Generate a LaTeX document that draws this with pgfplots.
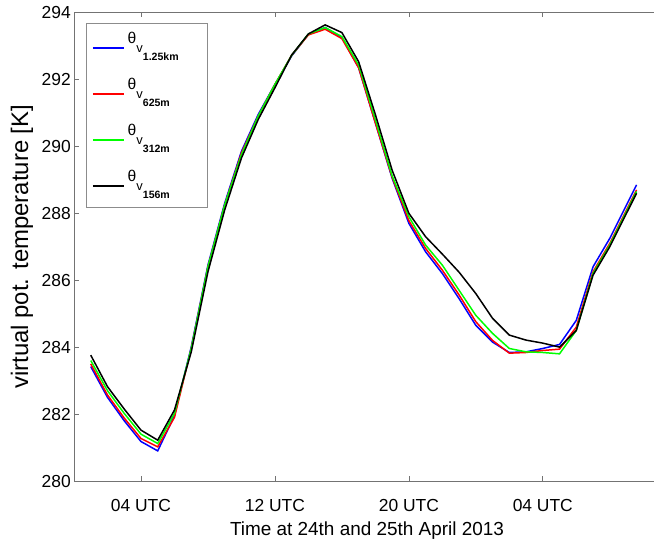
\documentclass[border=0pt]{standalone}
\usepackage{fontspec}
\setmainfont{Liberation Sans}
\usepackage{pgfplots}
\pgfplotsset{compat=1.18}
\usepackage{pgfplotstable}

% virtual potential temperature [K] for four grid spacings, hourly from 01 UTC
\pgfplotstableread{
hour  km125   m625    m312    m156
1     283.42  283.50  283.60  283.76
2     282.50  282.57  282.70  282.82
3     281.80  281.88  282.02  282.15
4     281.18  281.27  281.40  281.52
5     280.90  281.02  281.12  281.22
6     281.95  281.90  282.02  282.12
7     284.00  283.95  283.95  283.85
8     286.45  286.40  286.40  286.25
9     288.30  288.25  288.25  288.10
10    289.85  289.80  289.75  289.65
11    290.95  290.90  290.90  290.80
12    291.85  291.85  291.85  291.75
13    292.70  292.72  292.72  292.73
14    293.35  293.33  293.36  293.36
15    293.55  293.50  293.55  293.63
16    293.25  293.22  293.28  293.40
17    292.35  292.35  292.43  292.53
18    290.70  290.70  290.80  290.95
19    289.05  289.08  289.12  289.29
20    287.70  287.78  287.90  288.00
21    286.85  286.95  287.05  287.30
22    286.20  286.30  286.45  286.78
23    285.45  285.56  285.70  286.24
24    284.65  284.76  284.95  285.60
25    284.15  284.20  284.41  284.86
26    283.84  283.82  283.96  284.36
27    283.86  283.84  283.86  284.21
28    283.96  283.90  283.84  284.12
29    284.08  283.94  283.80  284.00
30    284.80  284.60  284.50  284.50
31    286.40  286.25  286.20  286.15
32    287.25  287.10  287.05  287.00
33.6  288.85  288.70  288.65  288.60
}\thetav

\newcommand{\thlab}[1]{\makebox[73bp][l]{{\fontsize{15.7}{15.7}\selectfont θ}\raisebox{-9bp}{\fontsize{13}{13}\selectfont v}\raisebox{-17.7bp}{\fontsize{10.6}{10.6}\selectfont\bfseries #1}}}

\begin{document}
\begin{tikzpicture}
\clip (0,0) rectangle (654bp,545bp);
\begin{axis}[
  at={(74bp,64bp)}, anchor=south west,
  scale only axis, width=586bp, height=468.5bp,
  xmin=0, xmax=35, ymin=280, ymax=294,
  xtick={4,12,20,28},
  xticklabels={04 UTC,12 UTC,20 UTC,04 UTC},
  ytick={280,282,...,294},
  /pgf/number format/assume math mode=true,
  /pgf/number format/1000 sep={},
  tick align=inside, major tick length=5bp,
  tick style={black!55, line width=0.7bp},
  axis line style={black!55, line width=0.8bp},
  ticklabel style={font=\fontsize{17.5}{17.5}\selectfont},
  yticklabel style={inner sep=0pt, xshift=-3bp},
  xticklabel style={inner sep=0pt, yshift=-18bp},
  xlabel={Time at 24th and 25th April 2013},
  ylabel={virtual pot. temperature [K]},
  xlabel style={font=\fontsize{19}{19}\selectfont,
    at={(axis description cs:0.5,0)}, anchor=base, yshift=-54bp},
  ylabel style={font=\fontsize{24}{24}\selectfont,
    at={([xshift=-52bp]axis description cs:0,0.5)}, anchor=center},
  legend cell align=left,
  legend style={at={(axis description cs:0.0205,0.978)}, anchor=north west,
    draw=black!45, fill=white, inner xsep=6bp, inner ysep=8bp,
    row sep=16bp, column sep=3bp,
    nodes={inner sep=0pt, text height=12bp, text depth=18bp}},
  legend image code/.code={\draw[#1] (0bp,-2bp) -- (31bp,-2bp);},
  every axis plot/.append style={line width=1.5bp},
]
\addplot[blue]         table[x=hour, y=km125] {\thetav};
\addplot[red]          table[x=hour, y=m625]  {\thetav};
\addplot[green]        table[x=hour, y=m312]  {\thetav};
\addplot[black]        table[x=hour, y=m156]  {\thetav};
\legend{\thlab{1.25km},\thlab{625m},\thlab{312m},\thlab{156m}}
\end{axis}
\end{tikzpicture}
\end{document}
